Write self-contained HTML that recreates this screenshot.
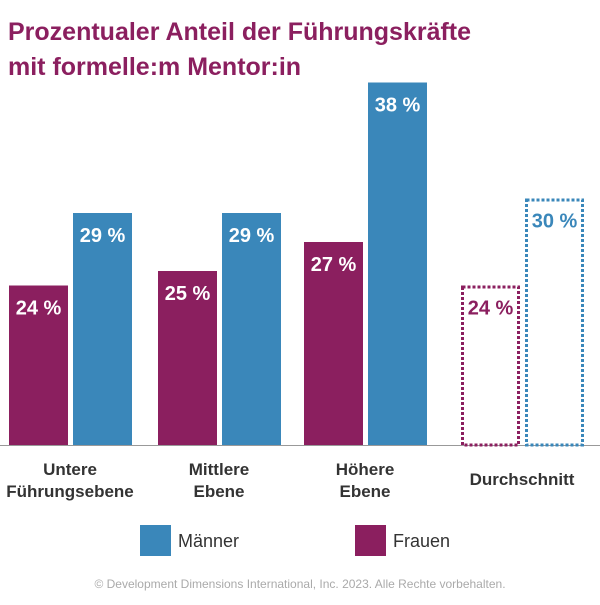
<!DOCTYPE html>
<html><head><meta charset="utf-8"><style>
body{margin:0;width:600px;height:600px;background:#fff;font-family:"Liberation Sans",sans-serif;overflow:hidden}
</style></head><body>
<svg width="600" height="600">
<text x="8" y="40" font-size="25" font-weight="bold" fill="#8B1F5F">Prozentualer Anteil der Führungskräfte</text>
<text x="8" y="75" font-size="25" font-weight="bold" fill="#8B1F5F">mit formelle:m Mentor:in</text>
<line x1="0" y1="445.5" x2="600" y2="445.5" stroke="#999" stroke-width="1"/>
<g id="bars"></g>
<rect x="140" y="525" width="31" height="31" fill="#3A87BA"/>
<text x="178" y="547" font-size="18" fill="#333">Männer</text>
<rect x="355" y="525" width="31" height="31" fill="#8B1F5F"/>
<text x="393" y="547" font-size="18" fill="#333">Frauen</text>
<text x="300" y="588" font-size="12" fill="#aaa" text-anchor="middle">© Development Dimensions International, Inc. 2023. Alle Rechte vorbehalten.</text>
</svg>
<script>
const categories=[["Untere","Führungsebene"],["Mittlere","Ebene"],["Höhere","Ebene"],["Durchschnitt"]];
const frauen=[24,25,27,24];
const maenner=[29,29,38,30];
const ns="http://www.w3.org/2000/svg";
const g=document.getElementById("bars");
const base=445,vmin=13,ppu=14.5;
function y(v){return base-(v-vmin)*ppu;}
const groupX=[9,158,304,461];
const bw=59;
function mk(t,a){const e=document.createElementNS(ns,t);for(const k in a)e.setAttribute(k,a[k]);g.appendChild(e);return e;}
categories.forEach((c,i)=>{
  const dashed=i===3;
  [[frauen[i],"#8B1F5F",0,"frauen"],[maenner[i],"#3A87BA",64,"maenner"]].forEach(([v,col,off,nm])=>{
    const x=groupX[i]+off,top=y(v);
    let r;
    if(dashed){r=mk("rect",{x:x+1.5,y:top+1.5,width:bw-3,height:base-top-1.5,fill:"none",stroke:col,"stroke-width":3,"stroke-dasharray":"3 2"});}
    else r=mk("rect",{x:x,y:top,width:bw,height:base-top,fill:col});
    
    
    const t=mk("text",{x:x+bw/2,y:top+29,"font-size":20,"font-weight":"bold","text-anchor":"middle",fill:dashed?col:"#fff"});
    t.textContent=v+" %";
    
    
  });
  const cx=groupX[i]+61;
  c.forEach((line,j)=>{
    const t=mk("text",{x:cx,y:(c.length===1?485:475+j*22),"font-size":17,"font-weight":"bold","text-anchor":"middle",fill:"#333"});
    t.textContent=line;
    
    
  });
});
</script>
</body></html>
